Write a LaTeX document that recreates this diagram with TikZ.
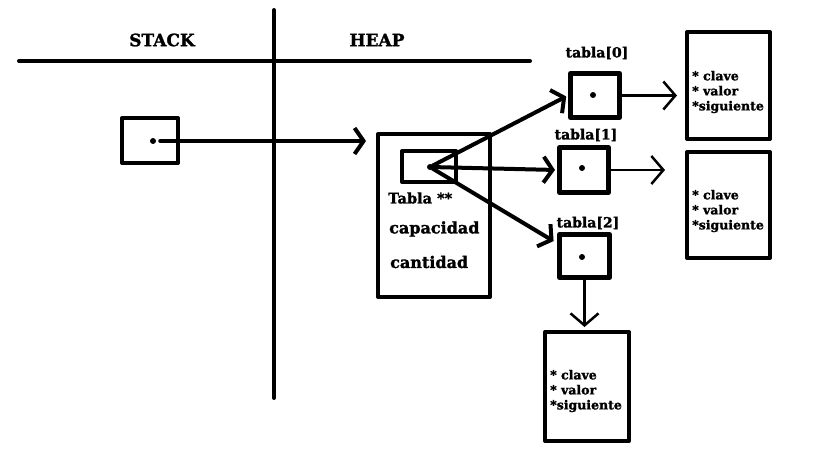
\documentclass[tikz,border=0pt]{standalone}
\usepackage{fontspec}
\setmainfont{DejaVu Serif}[BoldFeatures={FakeBold=1.5}]
\usetikzlibrary{arrows.meta}

\begin{document}
\begin{tikzpicture}[x=1pt,y=-1pt,line cap=round,line join=round]
\useasboundingbox (0,0) rectangle (819,460);

\begin{scope}[line width=4pt]
	%Stack / Heap
	\draw (19,61) -- (530,61);
	\draw (274,10) -- (274,398);
\end{scope}

\begin{scope}[every node/.style={font=\fontsize{17}{20}\selectfont\bfseries}]
	\node (stack) at (162,40) {STACK};
	\node (heap) at (377,40) {HEAP};
\end{scope}

\begin{scope}[every node/.style={draw,line width=4pt,inner sep=0pt}]
	%Stack
	\node[minimum width=56pt,minimum height=45pt] (ptr) at (150,140.5) {};
	
	%Heap
	\node[minimum width=112pt,minimum height=163pt] (hash) at (434,215.5) {};
	\node[minimum width=54pt,minimum height=31pt] (tabla) at (429,166.5) {};
	
	%Tabla
	\node[line width=5pt,minimum width=49pt,minimum height=44pt] (tabla_0) at (595,95.5) {};
	\node[line width=5pt,minimum width=49pt,minimum height=45pt] (tabla_1) at (584,170) {};
	\node[line width=5pt,minimum width=50pt,minimum height=43pt] (tabla_2) at (584.5,256) {};
	
	%Entries
	\node[minimum width=83pt,minimum height=107pt] (entry_0) at (728.5,85.5) {};
	\node[minimum width=83pt,minimum height=106pt] (entry_1) at (728.5,205) {};
	\node[minimum width=84pt,minimum height=109pt] (entry_2) at (587,386.5) {};
\end{scope}

\begin{scope}[every node/.style={circle,fill,inner sep=0pt,minimum size=6pt}]
	\node (ptr_dot) at (153,141) {};
	\node (tabla_dot) at (430,167) {};
	\node (tabla_0_dot) at (593,95) {};
	\node (tabla_1_dot) at (582,168) {};
	\node (tabla_2_dot) at (582,257) {};
\end{scope}

\begin{scope}[every node/.style={anchor=west,inner sep=0pt,font=\fontsize{16}{19}\selectfont\bfseries}]
	\node[font=\fontsize{14.5}{17}\selectfont\bfseries] (tabla_txt) at (388,198) {Tabla **};
	\node (cap_txt) at (389,229) {capacidad};
	\node (cant_txt) at (390,262) {cantidad};
\end{scope}

\begin{scope}[every node/.style={inner sep=0pt,font=\fontsize{14}{17}\selectfont\bfseries}]
	\node (tabla_0_lbl) at (597,53) {tabla[0]};
	\node (tabla_1_lbl) at (586,135) {tabla[1]};
	\node (tabla_2_lbl) at (588,223) {tabla[2]};
\end{scope}

\begin{scope}[every node/.style={anchor=west,inner sep=0pt,align=left,font=\fontsize{12.5}{15}\selectfont\bfseries}]
	\node (entry_0_txt) at (692,92) {* clave\\* valor\\*siguiente};
	\node (entry_1_txt) at (692,211) {* clave\\* valor\\*siguiente};
	\node (entry_2_txt) at (550,391) {* clave\\* valor\\*siguiente};
\end{scope}

\begin{scope}[line width=4pt,-{Straight Barb[length=9pt,width=26pt]}]
	\path (ptr_dot) edge[shorten <=4pt,shorten >=10pt] (ptr_dot -| hash.west);
	\path (tabla_dot) edge[shorten >=2pt] (tabla_0.west);
	\path (tabla_dot) edge[shorten >=2pt] (tabla_1.west);
	\path (tabla_dot) edge[shorten >=4pt] (tabla_2.155);
\end{scope}

\begin{scope}[line width=2.5pt,-{Straight Barb[length=12pt,width=28pt]}]
	\path (tabla_0.east) edge[shorten >=8pt] (tabla_0.east -| entry_0.west);
	\path (tabla_1.east) edge[shorten >=20pt] (tabla_1.east -| entry_1.west);
	\path (tabla_2.south) edge[shorten >=3pt] (tabla_2.south |- entry_2.north);
\end{scope}
\end{tikzpicture}
\end{document}
